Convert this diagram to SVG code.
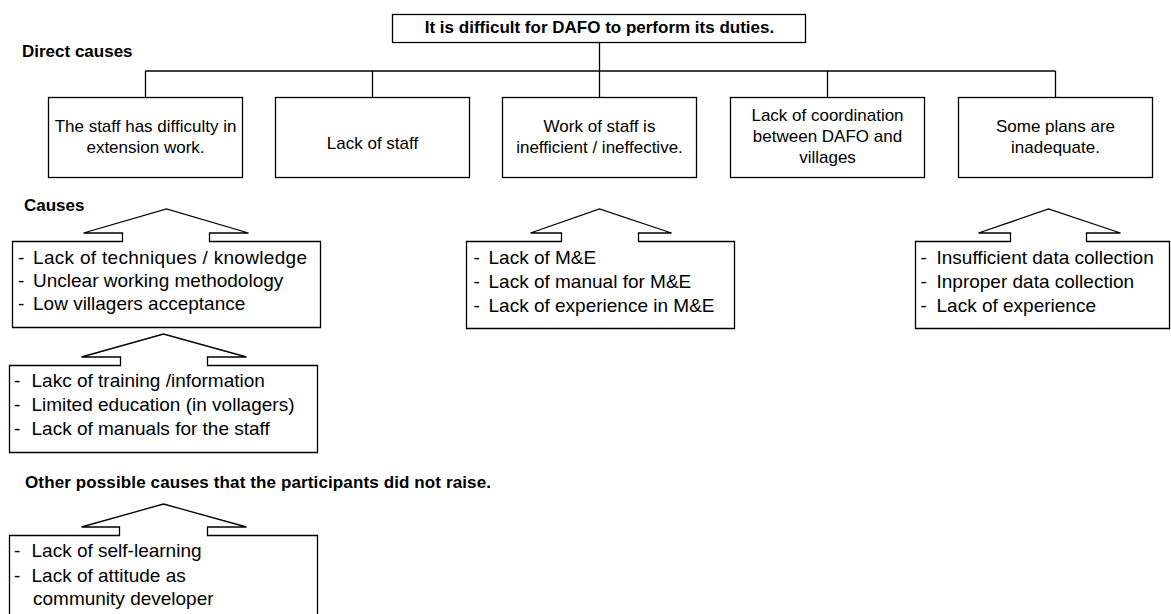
<svg xmlns="http://www.w3.org/2000/svg" width="1171" height="614" viewBox="0 0 1171 614">
  <style>
    .box { fill: #fff; stroke: #000; stroke-width: 1.3; }
    .wire { fill: none; stroke: #000; stroke-width: 1.3; }
    .hdr { font-family: "Liberation Sans", Arial, sans-serif; font-size: 17px; font-weight: bold; fill: #000; }
    .node { font-family: "Liberation Sans", Arial, sans-serif; font-size: 17px; fill: #000; text-anchor: middle; }
    .item { font-family: "Liberation Sans", Arial, sans-serif; font-size: 19px; fill: #000; }
  </style>
  <rect width="1171" height="614" fill="#fff"/>

  <!-- section headings -->
  <g id="headings">
    <text class="hdr" x="22" y="57">Direct causes</text>
    <text class="hdr" x="24" y="211">Causes</text>
    <text class="hdr" x="25" y="488" textLength="466">Other possible causes that the participants did not raise.</text>
  </g>

  <!-- tree connectors -->
  <g id="connectors" class="wire">
    <line x1="599.5" y1="42" x2="599.5" y2="97"/>
    <line x1="145.5" y1="71" x2="1055.5" y2="71"/>
    <line x1="145.5" y1="71" x2="145.5" y2="97"/>
    <line x1="372.5" y1="71" x2="372.5" y2="97"/>
    <line x1="827.5" y1="71" x2="827.5" y2="97"/>
    <line x1="1055.5" y1="71" x2="1055.5" y2="97"/>
  </g>

  <!-- root problem -->
  <g id="root">
    <rect class="box" x="392.5" y="14.5" width="413" height="28"/>
    <text class="hdr" x="599.5" y="32.5" text-anchor="middle">It is difficult for DAFO to perform its duties.</text>
  </g>

  <!-- direct causes -->
  <g id="dc-extension">
    <rect class="box" x="48.5" y="97.5" width="194" height="80"/>
    <text class="node" x="145.5" y="132">The staff has difficulty in</text>
    <text class="node" x="145.5" y="153">extension work.</text>
  </g>
  <g id="dc-staff">
    <rect class="box" x="275.5" y="97.5" width="194" height="80"/>
    <text class="node" x="372.5" y="149">Lack of staff</text>
  </g>
  <g id="dc-inefficient">
    <rect class="box" x="502.5" y="97.5" width="194" height="80"/>
    <text class="node" x="599.5" y="132">Work of staff is</text>
    <text class="node" x="599.5" y="153">inefficient / ineffective.</text>
  </g>
  <g id="dc-coordination">
    <rect class="box" x="730.5" y="97.5" width="194" height="80"/>
    <text class="node" x="827.5" y="121">Lack of coordination</text>
    <text class="node" x="827.5" y="142">between DAFO and</text>
    <text class="node" x="827.5" y="163">villages</text>
  </g>
  <g id="dc-plans">
    <rect class="box" x="958.5" y="97.5" width="194" height="80"/>
    <text class="node" x="1055.5" y="132">Some plans are</text>
    <text class="node" x="1055.5" y="153">inadequate.</text>
  </g>

  <!-- cause callouts (box with an upward arrow) -->
  <g id="causes-extension">
    <path class="box" d="M12.5,241.5 H122.5 V233 H83.5 L166.5,209 L248.5,233 H209.5 V241.5 H320.5 V327.5 H12.5 Z"/>
    <text class="item" x="18" y="263.5"><tspan>- </tspan><tspan x="33" textLength="274">Lack of techniques / knowledge</tspan></text>
    <text class="item" x="18" y="287"><tspan>- </tspan><tspan x="33">Unclear working methodology</tspan></text>
    <text class="item" x="18" y="310"><tspan>- </tspan><tspan x="33">Low villagers acceptance</tspan></text>
  </g>
  <g id="causes-root">
    <path class="box" d="M9.5,365.5 H120.5 V357 H81.5 L163.5,334 L246.5,357 H207.5 V365.5 H317.5 V452.5 H9.5 Z"/>
    <text class="item" x="14" y="387"><tspan>- </tspan><tspan x="31.5">Lakc of training /information</tspan></text>
    <text class="item" x="14" y="411"><tspan>- </tspan><tspan x="31.5">Limited education (in vollagers)</tspan></text>
    <text class="item" x="14" y="434.5"><tspan>- </tspan><tspan x="31.5">Lack of manuals for the staff</tspan></text>
  </g>
  <g id="causes-other">
    <path class="box" d="M9.5,620 V535.5 H119.5 V527 H81.5 L163.5,504 L246.5,527 H207.5 V535.5 H317.5 V620"/>
    <text class="item" x="14" y="557"><tspan>- </tspan><tspan x="31.5">Lack of self-learning</tspan></text>
    <text class="item" x="14" y="581.5"><tspan>- </tspan><tspan x="31.5">Lack of attitude as</tspan></text>
    <text class="item" x="33" y="604.5">community developer</text>
  </g>
  <g id="causes-inefficient">
    <path class="box" d="M466.5,241.5 H561.5 V233 H530.5 L599.5,209 L671.5,233 H638.5 V241.5 H734.5 V328.5 H466.5 Z"/>
    <text class="item" x="473.5" y="264"><tspan>- </tspan><tspan x="488.5">Lack of M&amp;E</tspan></text>
    <text class="item" x="473.5" y="287.5"><tspan>- </tspan><tspan x="488.5">Lack of manual for M&amp;E</tspan></text>
    <text class="item" x="473.5" y="311.5"><tspan>- </tspan><tspan x="488.5">Lack of experience in M&amp;E</tspan></text>
  </g>
  <g id="causes-plans">
    <path class="box" d="M915.5,241.5 H1010.5 V233 H978.5 L1048.5,209 L1120.5,233 H1086.5 V241.5 H1169.5 V328.5 H915.5 Z"/>
    <text class="item" x="920.5" y="264"><tspan>- </tspan><tspan x="936.5">Insufficient data collection</tspan></text>
    <text class="item" x="920.5" y="287.5"><tspan>- </tspan><tspan x="936.5">Inproper data collection</tspan></text>
    <text class="item" x="920.5" y="311.5"><tspan>- </tspan><tspan x="936.5">Lack of experience</tspan></text>
  </g>
</svg>
